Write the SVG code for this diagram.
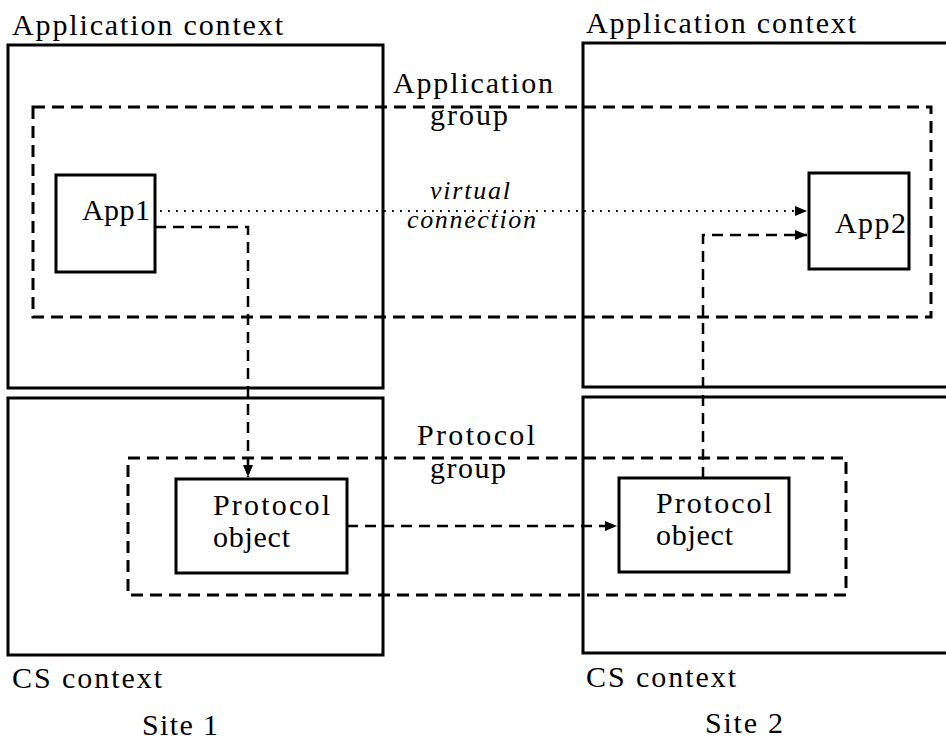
<svg xmlns="http://www.w3.org/2000/svg" width="946" height="742" viewBox="0 0 946 742" font-family="'Liberation Serif', 'Times New Roman', 'DejaVu Serif', serif">
<style>
text{font-family:'Liberation Serif','Times New Roman','DejaVu Serif',serif;font-size:30px;fill:#000}
.it{font-style:italic;font-size:26px}
.box{fill:none;stroke:#000;stroke-width:3}
.grp{fill:none;stroke:#000;stroke-width:3;stroke-dasharray:12 7}
.dash{fill:none;stroke:#000;stroke-width:2.5;stroke-dasharray:11 7}
.dot{fill:none;stroke:#000;stroke-width:1.8;stroke-dasharray:1.8 6.2}
</style>
<defs>
<marker id="ah" viewBox="0 0 12 10" refX="12" refY="5" markerWidth="12" markerHeight="10" markerUnits="userSpaceOnUse" orient="auto">
<path d="M0,0 L12,5 L0,10 Z" fill="#000"/>
</marker>
</defs>
<rect width="946" height="742" fill="#fff"/>
<g id="app-context-1">
<rect class="box" x="8" y="45" width="375" height="343"/>
<text x="12" y="35" textLength="271" lengthAdjust="spacing">Application context</text>
</g>
<g id="app-context-2">
<rect class="box" x="583" y="43" width="370" height="344"/>
<text x="586" y="33" textLength="270" lengthAdjust="spacing">Application context</text>
</g>
<g id="cs-context-1">
<rect class="box" x="8" y="398" width="375" height="257"/>
<text x="12" y="688" textLength="150" lengthAdjust="spacing">CS context</text>
</g>
<g id="cs-context-2">
<rect class="box" x="583" y="397" width="370" height="256"/>
<text x="586" y="687" textLength="150" lengthAdjust="spacing">CS context</text>
</g>
<g id="application-group">
<rect class="grp" x="33" y="107" width="898" height="210"/>
<text x="393" y="93" textLength="160" lengthAdjust="spacing">Application</text>
<text x="430" y="125" textLength="78" lengthAdjust="spacing">group</text>
</g>
<g id="protocol-group">
<rect class="grp" x="128" y="458" width="718" height="137"/>
<text x="417" y="445" textLength="118" lengthAdjust="spacing">Protocol</text>
<text x="430" y="478" textLength="76" lengthAdjust="spacing">group</text>
</g>
<g id="app1">
<rect class="box" x="56" y="175" width="99" height="97" fill="#fff"/>
<text x="82" y="220" textLength="68" lengthAdjust="spacing">App1</text>
</g>
<g id="app2">
<rect class="box" x="809" y="173" width="100" height="96" fill="#fff"/>
<text x="835" y="233" textLength="71" lengthAdjust="spacing">App2</text>
</g>
<g id="protocol-object-1">
<rect class="box" x="176" y="479" width="171" height="94" fill="#fff"/>
<text x="213" y="515" textLength="117" lengthAdjust="spacing">Protocol</text>
<text x="213" y="547" textLength="77" lengthAdjust="spacing">object</text>
</g>
<g id="protocol-object-2">
<rect class="box" x="619" y="478" width="170" height="94" fill="#fff"/>
<text x="656" y="513" textLength="116" lengthAdjust="spacing">Protocol</text>
<text x="656" y="545" textLength="77" lengthAdjust="spacing">object</text>
</g>
<g id="connectors">
<path class="dot" d="M160,211 L807,211" marker-end="url(#ah)"/>
<text class="it" x="430" y="199" textLength="80" lengthAdjust="spacing">virtual</text>
<text class="it" x="407" y="228" textLength="129" lengthAdjust="spacing">connection</text>
<path class="dash" d="M155,227 L248,227 L248,477" marker-end="url(#ah)"/>
<path class="dash" d="M347,526 L617,526" marker-end="url(#ah)"/>
<path class="dash" d="M703,478 L703,235 L807,235" marker-end="url(#ah)"/>
</g>
<g id="site-labels">
<text x="142" y="735" textLength="76" lengthAdjust="spacing">Site 1</text>
<text x="705" y="733" textLength="78" lengthAdjust="spacing">Site 2</text>
</g>
</svg>
